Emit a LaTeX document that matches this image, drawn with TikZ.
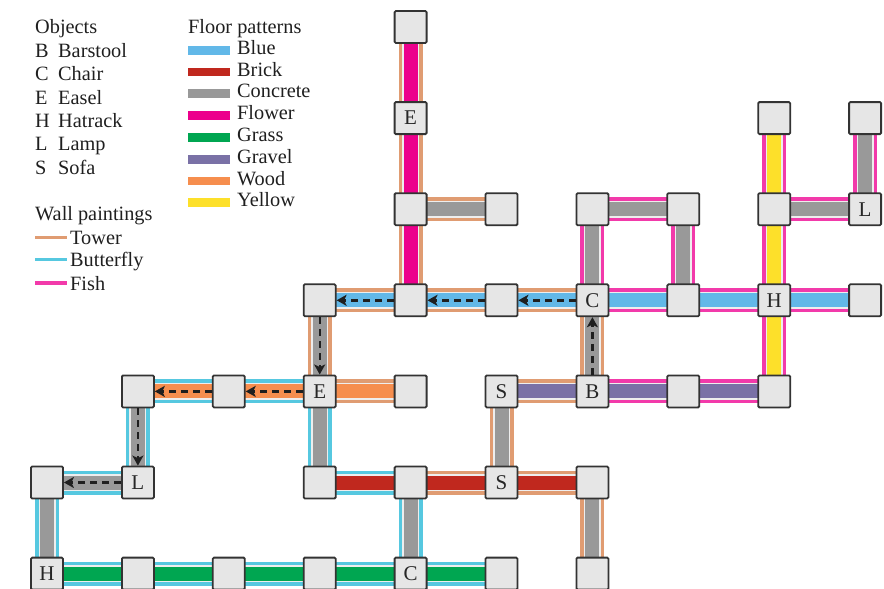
\documentclass[tikz,border=0pt]{standalone}
\usepackage{fontspec}
\setmainfont{Liberation Serif}
\usetikzlibrary{arrows.meta}
\pgfdeclarelayer{background}
\pgfsetlayers{background,main}
\definecolor{cBlue}{HTML}{62B8E8}
\definecolor{cBrick}{HTML}{C0281E}
\definecolor{cConcrete}{HTML}{999999}
\definecolor{cFlower}{HTML}{EC008C}
\definecolor{cGrass}{HTML}{00A651}
\definecolor{cGravel}{HTML}{7A71A6}
\definecolor{cWood}{HTML}{F68E4E}
\definecolor{cYellow}{HTML}{FDE02A}
\definecolor{wTower}{HTML}{E09C72}
\definecolor{wButterfly}{HTML}{56C8E0}
\definecolor{wFish}{HTML}{F23AAA}
\definecolor{gapc}{HTML}{EEEEEE}
\definecolor{roomfill}{HTML}{E6E6E6}
\definecolor{roomline}{HTML}{333333}
\tikzset{
 room/.style={draw=roomline, fill=roomfill, line width=1.8pt, minimum size=32pt, inner sep=0pt, rounded corners=1.2pt, font=\fontsize{21}{24}\selectfont, text=black!85},
 wallline/.style={line width=24pt},
 gapline/.style={line width=17pt, draw=gapc},
 floorline/.style={line width=14pt},
 walkarrow/.style={draw=black!88, line width=2.4pt, dash pattern=on 7pt off 5pt, -{Stealth[length=10pt,width=11pt,inset=2.5pt]}},
 legtext/.style={anchor=base west, inner sep=0pt, font=\fontsize{20.3}{24}\selectfont, text=black!88},
 wallswatch/.style={line width=3.5pt},
}
\newcommand{\corridor}[4]{%
 \draw[wallline,draw=#4] (#1.center) -- (#2.center);
 \draw[gapline] (#1.center) -- (#2.center);
 \draw[floorline,draw=#3] (#1.center) -- (#2.center);}
\begin{document}
\begin{tikzpicture}[x=1pt,y=-1pt]
\useasboundingbox (0,0) rectangle (884,589);
\clip (0,0) rectangle (884,589);
% ---------- legend ----------
\node[legtext] (lobj) at (35,33.3) {Objects};
\node[legtext] (lb) at (35,57.3) {B}; \node[legtext] (lbt) at (58,57.3) {Barstool};
\node[legtext] (lc) at (35,80.7) {C}; \node[legtext] (lct) at (58,80.7) {Chair};
\node[legtext] (le) at (35,104.1) {E}; \node[legtext] (let) at (58,104.1) {Easel};
\node[legtext] (lh) at (35,127.5) {H}; \node[legtext] (lht) at (58,127.5) {Hatrack};
\node[legtext] (ll) at (35,150.9) {L}; \node[legtext] (llt) at (58,150.9) {Lamp};
\node[legtext] (ls) at (35,174.3) {S}; \node[legtext] (lst) at (58,174.3) {Sofa};
\node[legtext] (lwp) at (35,220) {Wall paintings};
\draw[wallswatch,wTower] (35,237.3) -- (67,237.3);
\node[legtext] (ltw) at (70,244.3) {Tower};
\draw[wallswatch,wButterfly] (35,259.7) -- (67,259.7);
\node[legtext] (lbf) at (70,266.7) {Butterfly};
\draw[wallswatch,wFish] (35,283) -- (67,283);
\node[legtext] (lfi) at (70,290) {Fish};
\node[legtext] (lfp) at (188,33.3) {Floor patterns};
\foreach \b/\c/\t [count=\i] in {54.3/cBlue/Blue, 76.1/cBrick/Brick, 97.9/cConcrete/Concrete, 119.7/cFlower/Flower, 141.5/cGrass/Grass, 163.3/cGravel/Gravel, 185.1/cWood/Wood, 206.9/cYellow/Yellow}{
  \fill[\c] (188,\b-8.5) rectangle (230,\b+0.3);
  \node[legtext] (lf\i) at (237,\b) {\t};
}
% ---------- rooms ----------
\node[room] (n40) at (410.6,27) {};
\node[room] (n41) at (410.6,118.1) {E};
\node[room] (n81) at (774.2,118.1) {};
\node[room] (n91) at (865.1,118.1) {};
\node[room] (n42) at (410.6,209.2) {};
\node[room] (n52) at (501.5,209.2) {};
\node[room] (n62) at (592.4,209.2) {};
\node[room] (n72) at (683.3,209.2) {};
\node[room] (n82) at (774.2,209.2) {};
\node[room] (n92) at (865.1,209.2) {L};
\node[room] (n33) at (319.7,300.3) {};
\node[room] (n43) at (410.6,300.3) {};
\node[room] (n53) at (501.5,300.3) {};
\node[room] (n63) at (592.4,300.3) {C};
\node[room] (n73) at (683.3,300.3) {};
\node[room] (n83) at (774.2,300.3) {H};
\node[room] (n93) at (865.1,300.3) {};
\node[room] (n14) at (137.9,391.4) {};
\node[room] (n24) at (228.8,391.4) {};
\node[room] (n34) at (319.7,391.4) {E};
\node[room] (n44) at (410.6,391.4) {};
\node[room] (n54) at (501.5,391.4) {S};
\node[room] (n64) at (592.4,391.4) {B};
\node[room] (n74) at (683.3,391.4) {};
\node[room] (n84) at (774.2,391.4) {};
\node[room] (n05) at (47,482.5) {};
\node[room] (n15) at (137.9,482.5) {L};
\node[room] (n35) at (319.7,482.5) {};
\node[room] (n45) at (410.6,482.5) {};
\node[room] (n55) at (501.5,482.5) {S};
\node[room] (n65) at (592.4,482.5) {};
\node[room] (n06) at (47,573.6) {H};
\node[room] (n16) at (137.9,573.6) {};
\node[room] (n26) at (228.8,573.6) {};
\node[room] (n36) at (319.7,573.6) {};
\node[room] (n46) at (410.6,573.6) {C};
\node[room] (n56) at (501.5,573.6) {};
\node[room] (n66) at (592.4,573.6) {};
% ---------- corridors ----------
\begin{pgfonlayer}{background}
\corridor{n40}{n41}{cFlower}{wTower}
\corridor{n41}{n42}{cFlower}{wTower}
\corridor{n42}{n43}{cFlower}{wTower}
\corridor{n42}{n52}{cConcrete}{wTower}
\corridor{n33}{n43}{cBlue}{wTower}
\corridor{n43}{n53}{cBlue}{wTower}
\corridor{n53}{n63}{cBlue}{wTower}
\corridor{n63}{n73}{cBlue}{wFish}
\corridor{n73}{n83}{cBlue}{wFish}
\corridor{n83}{n93}{cBlue}{wFish}
\corridor{n62}{n72}{cConcrete}{wFish}
\corridor{n62}{n63}{cConcrete}{wFish}
\corridor{n72}{n73}{cConcrete}{wFish}
\corridor{n81}{n82}{cYellow}{wFish}
\corridor{n82}{n83}{cYellow}{wFish}
\corridor{n83}{n84}{cYellow}{wFish}
\corridor{n82}{n92}{cConcrete}{wFish}
\corridor{n91}{n92}{cConcrete}{wFish}
\corridor{n63}{n64}{cConcrete}{wTower}
\corridor{n54}{n64}{cGravel}{wTower}
\corridor{n64}{n74}{cGravel}{wFish}
\corridor{n74}{n84}{cGravel}{wFish}
\corridor{n33}{n34}{cConcrete}{wTower}
\corridor{n34}{n44}{cWood}{wTower}
\corridor{n24}{n34}{cWood}{wButterfly}
\corridor{n14}{n24}{cWood}{wButterfly}
\corridor{n14}{n15}{cConcrete}{wButterfly}
\corridor{n05}{n15}{cConcrete}{wButterfly}
\corridor{n05}{n06}{cConcrete}{wButterfly}
\corridor{n06}{n16}{cGrass}{wButterfly}
\corridor{n16}{n26}{cGrass}{wButterfly}
\corridor{n26}{n36}{cGrass}{wButterfly}
\corridor{n36}{n46}{cGrass}{wButterfly}
\corridor{n46}{n56}{cGrass}{wButterfly}
\corridor{n34}{n35}{cConcrete}{wButterfly}
\corridor{n35}{n45}{cBrick}{wButterfly}
\corridor{n45}{n46}{cConcrete}{wButterfly}
\corridor{n45}{n55}{cBrick}{wTower}
\corridor{n55}{n65}{cBrick}{wTower}
\corridor{n54}{n55}{cConcrete}{wTower}
\corridor{n65}{n66}{cConcrete}{wTower}
\end{pgfonlayer}
% ---------- walk ----------
\draw[walkarrow] (n64) -- (n63);
\draw[walkarrow] (n63) -- (n53);
\draw[walkarrow] (n53) -- (n43);
\draw[walkarrow] (n43) -- (n33);
\draw[walkarrow] (n33) -- (n34);
\draw[walkarrow] (n34) -- (n24);
\draw[walkarrow] (n24) -- (n14);
\draw[walkarrow] (n14) -- (n15);
\draw[walkarrow] (n15) -- (n05);
\end{tikzpicture}
\end{document}
